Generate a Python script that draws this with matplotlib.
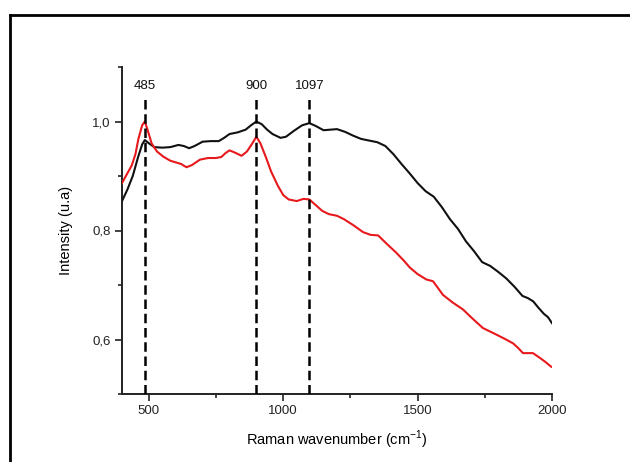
import matplotlib
matplotlib.use("Agg")
import matplotlib.pyplot as plt
from matplotlib.ticker import FixedLocator, FuncFormatter
from matplotlib.lines import Line2D

plt.rcParams['font.family'] = ['Liberation Sans', 'DejaVu Sans']
plt.rcParams['mathtext.fontset'] = 'custom'
plt.rcParams['mathtext.rm'] = 'Liberation Sans'

# Black spectrum
black_x = [400, 420, 440, 460, 475, 485, 500, 520, 550, 580, 610, 630, 650, 670, 700, 730,
           760, 780, 800, 830, 860, 880, 900, 920, 940, 960, 990, 1010, 1040, 1070, 1097,
           1120, 1150, 1175, 1200, 1230, 1260, 1290, 1320, 1350, 1380, 1410, 1440, 1470,
           1500, 1530, 1560, 1590, 1620, 1650, 1680, 1710, 1740, 1770, 1800, 1830, 1860,
           1890, 1910, 1930, 1950, 1970, 1985, 2000]
black_y = [0.854, 0.875, 0.900, 0.935, 0.958, 0.966, 0.960, 0.953, 0.952, 0.953, 0.957,
           0.955, 0.951, 0.955, 0.963, 0.964, 0.964, 0.970, 0.977, 0.980, 0.985, 0.993,
           1.000, 0.995, 0.985, 0.977, 0.970, 0.972, 0.983, 0.993, 0.997, 0.992, 0.984,
           0.985, 0.986, 0.981, 0.974, 0.968, 0.965, 0.962, 0.955, 0.940, 0.922, 0.905,
           0.887, 0.872, 0.862, 0.843, 0.821, 0.803, 0.780, 0.762, 0.742, 0.735, 0.724,
           0.712, 0.697, 0.680, 0.676, 0.670, 0.658, 0.647, 0.641, 0.630]

# Red spectrum
red_x = [400, 420, 436, 450, 461, 475, 485, 495, 510, 530, 555, 580, 600, 620, 640, 660,
         690, 720, 750, 770, 785, 800, 820, 845, 865, 885, 900, 915, 935, 955, 980, 1000,
         1020, 1050, 1075, 1097, 1120, 1145, 1170, 1200, 1225, 1260, 1297, 1325, 1353,
         1380, 1421, 1450, 1471, 1500, 1533, 1557, 1575, 1594, 1630, 1669, 1705, 1743,
         1793, 1825, 1855, 1875, 1892, 1910, 1929, 1950, 1975, 1997]
red_y = [0.887, 0.905, 0.919, 0.940, 0.968, 0.993, 1.000, 0.985, 0.960, 0.945, 0.935,
         0.928, 0.925, 0.922, 0.916, 0.920, 0.930, 0.933, 0.933, 0.935, 0.942, 0.947,
         0.943, 0.937, 0.945, 0.960, 0.972, 0.960, 0.935, 0.908, 0.882, 0.865, 0.857,
         0.854, 0.858, 0.857, 0.847, 0.836, 0.830, 0.827, 0.821, 0.810, 0.797, 0.792,
         0.791, 0.778, 0.759, 0.744, 0.732, 0.720, 0.710, 0.707, 0.695, 0.682, 0.668,
         0.655, 0.638, 0.621, 0.609, 0.601, 0.593, 0.584, 0.575, 0.575, 0.575, 0.568,
         0.559, 0.550]

peaks = [485, 900, 1097]
peak_labels = ['485', '900', '1097']

x_major = [500, 1000, 1500, 2000]
x_minor = [750, 1250, 1750]
y_major = [0.6, 0.8, 1.0]
y_minor = [0.5, 0.7, 0.9, 1.1]

fig = plt.figure(figsize=(6.3, 4.62), dpi=100)
ax = fig.add_axes([122/630, 1-394/462, (552-122)/630, (394-67)/462])

ax.plot(black_x, black_y, color='#111111', lw=1.5, zorder=3)
ax.plot(red_x, red_y, color='#e8191c', lw=1.5, zorder=3)

for p, lab in zip(peaks, peak_labels):
    ax.plot([p, p], [0.5, 1.047], color='black', lw=1.8, ls=(0, (3.8, 1.9)), zorder=4)
    ax.text(p, 1.054, lab, ha='center', va='bottom', fontsize=9.5, color='#111111')

ax.set_xlim(400, 2000)
ax.set_ylim(0.5, 1.1)
ax.xaxis.set_major_locator(FixedLocator(x_major))
ax.xaxis.set_minor_locator(FixedLocator(x_minor))
ax.yaxis.set_major_locator(FixedLocator(y_major))
ax.yaxis.set_minor_locator(FixedLocator(y_minor))
ax.yaxis.set_major_formatter(FuncFormatter(lambda v, p: f"{v:.1f}".replace('.', ',')))
ax.xaxis.set_major_formatter(FuncFormatter(lambda v, p: f"{int(v)}"))

for s in ['top', 'right']:
    ax.spines[s].set_visible(False)
for s in ['left', 'bottom']:
    ax.spines[s].set_linewidth(1.4)
    ax.spines[s].set_color('#222222')

ax.tick_params(which='major', direction='out', length=5, width=1.2, labelsize=9.5,
               colors='#222222', pad=3)
ax.tick_params(which='minor', direction='out', length=3, width=1.2, colors='#222222')

ax.set_xlabel('Raman wavenumber (cm$^{-1}$)', fontsize=10.5, labelpad=8)
ax.set_ylabel('Intensity (u.a)', fontsize=10.5, labelpad=14)

# outer frame
fig.add_artist(Line2D([9.5/630, 9.5/630], [0, 1-15/462], transform=fig.transFigure,
                      color='black', lw=2))
fig.add_artist(Line2D([9.5/630, 1], [1-15/462, 1-15/462], transform=fig.transFigure,
                      color='black', lw=2))

fig.savefig('out.png', dpi=100, facecolor='white')
